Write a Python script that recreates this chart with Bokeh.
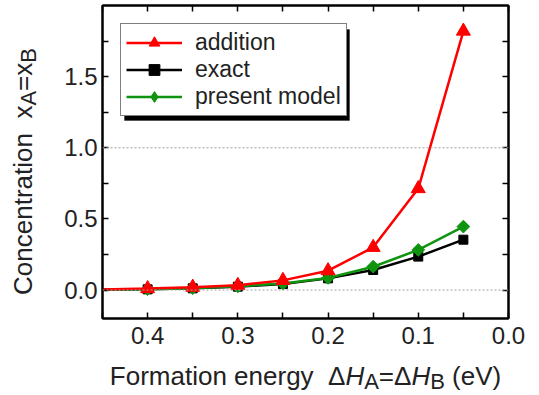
import math
from bokeh.plotting import figure
from bokeh.layouts import row, column
from bokeh.models import (Legend, LegendItem, Label, Span, BoxAnnotation, FixedTicker,
                          PrintfTickFormatter, LinearAxis, Range1d, CustomLabelingPolicy)
from bokeh.embed import file_html
from bokeh.resources import INLINE

# ---------------- data ----------------
energies = [0.45, 0.40, 0.35, 0.30, 0.25, 0.20, 0.15, 0.10, 0.05]
addition = [0.004, 0.010, 0.020, 0.033, 0.068, 0.136, 0.300, 0.713, 1.820]
exact = [0.002, 0.005, 0.012, 0.024, 0.042, 0.082, 0.141, 0.235, 0.354]
present_model = [0.002, 0.006, 0.013, 0.026, 0.046, 0.085, 0.164, 0.282, 0.446]
ref_levels = [0.0, 1.0]
x_major = [0.4, 0.3, 0.2, 0.1, 0.0]
x_minor = [0.45, 0.35, 0.25, 0.15, 0.05]
y_major = [0.0, 0.5, 1.0, 1.5]
y_minor = [0.25, 0.75, 1.25, 1.75]

RED = "#ff0000"
BLACK = "#000000"
GREEN = "#109410"
TXT = "#222222"
FONT = "Liberation Sans"
NBSP = "\u00a0"

# page geometry
PAGE_W, PAGE_H = 539, 395
YLAB_W = 46            # width of the strip holding the y-axis title
MAIN_H = 358           # height of the main figure
FRAME_LEFT, FRAME_RIGHT, FRAME_TOP, FRAME_BOTTOM = 102, 508, 5, 318
BASELINE_FIX = 11      # renderer places "alphabetic" baseline this much lower

p = figure(width=PAGE_W - YLAB_W, height=MAIN_H,
           x_range=Range1d(0.45, 0.0), y_range=Range1d(-0.2, 2.0),
           output_backend="svg", toolbar_location=None,
           min_border_left=FRAME_LEFT - YLAB_W, min_border_right=PAGE_W - FRAME_RIGHT,
           min_border_top=FRAME_TOP, min_border_bottom=MAIN_H - FRAME_BOTTOM)
p.grid.visible = False
p.outline_line_color = "black"
p.outline_line_width = 2
p.background_fill_color = "white"
p.border_fill_color = "white"

def style_axis(ax, labels=True):
    ax.axis_line_color = "black"
    ax.axis_line_width = 2
    ax.major_tick_in = 6
    ax.major_tick_out = 0
    ax.minor_tick_in = 6
    ax.minor_tick_out = 0
    ax.major_tick_line_width = 1.5
    ax.minor_tick_line_width = 1.5
    ax.major_label_text_font = FONT
    ax.major_label_text_color = TXT
    if labels:
        ax.major_label_text_font_size = "24px"
    else:
        ax.major_label_text_font_size = "1px"
        ax.major_label_standoff = 0
        ax.major_label_policy = CustomLabelingPolicy(code="return []")

xt = FixedTicker(ticks=x_major, minor_ticks=x_minor)
yt = FixedTicker(ticks=y_major, minor_ticks=y_minor)

p.xaxis.ticker = xt
p.yaxis.ticker = yt
p.xaxis.formatter = PrintfTickFormatter(format="%.1f")
p.yaxis.formatter = PrintfTickFormatter(format="%.1f")
style_axis(p.xaxis[0])
style_axis(p.yaxis[0])
p.xaxis.major_label_standoff = 8
p.yaxis.major_label_standoff = 5

top_ax = LinearAxis(ticker=xt)
right_ax = LinearAxis(ticker=yt)
style_axis(top_ax, labels=False)
style_axis(right_ax, labels=False)
p.add_layout(top_ax, "above")
p.add_layout(right_ax, "right")

for lv in ref_levels:
    p.add_layout(Span(location=lv, dimension="width", line_color="#a0a0a0",
                      line_width=1, line_dash="2 2"))

mx = energies[1:]
l_ex = p.line(energies, exact, line_color=BLACK, line_width=2.5)
s_ex = p.scatter(mx, exact[1:], marker="square", size=9, fill_color=BLACK, line_color=BLACK)
l_pm = p.line(energies, present_model, line_color=GREEN, line_width=2.5)
# diamond glyph used for the legend entry (hidden beneath the rotated squares)
s_pm_leg = p.scatter(mx, present_model[1:], marker="diamond", size=11,
                     fill_color=GREEN, line_color=GREEN)
s_pm = p.scatter(mx, present_model[1:], marker="square", angle=math.pi / 4, size=9,
                 fill_color=GREEN, line_color=GREEN)
l_ad = p.line(energies, addition, line_color=RED, line_width=2.5)
s_ad = p.scatter(mx, addition[1:], marker="triangle", size=14, fill_color=RED, line_color=RED)

# legend shadow (frame-relative screen units)
p.add_layout(BoxAnnotation(left=22, right=247, top=FRAME_BOTTOM - 29, bottom=FRAME_BOTTOM - 120,
                           left_units="screen", right_units="screen",
                           top_units="screen", bottom_units="screen",
                           fill_color="black", fill_alpha=1, line_color="black"))

legend = Legend(items=[LegendItem(label="addition", renderers=[l_ad, s_ad]),
                       LegendItem(label="exact", renderers=[l_ex, s_ex]),
                       LegendItem(label="present model", renderers=[l_pm, s_pm_leg])],
                location=(18, FRAME_BOTTOM - 116), padding=5, spacing=0, margin=0,
                glyph_width=56, glyph_height=27, label_height=27, label_standoff=13,
                label_text_font=FONT, label_text_font_size="23px", label_text_color=TXT,
                border_line_color="black", border_line_width=1.5,
                background_fill_color="white", background_fill_alpha=1)
p.add_layout(legend, "center")

# ---------------- axis titles (pieces with sub-scripts) ----------------
W = {"F": 611, "o": 556, "r": 333, "m": 833, "a": 556, "t": 278, "i": 222, "n": 556,
     " ": 278, NBSP: 278, "e": 556, "g": 556, "y": 500, "Δ": 668, "H": 722, "A": 667,
     "=": 584, "B": 667, "(": 333, "V": 667, ")": 333, "C": 722, "c": 500, "x": 500}

def width(s, size):
    return sum(W.get(ch, 556) for ch in s) * size / 1000.0

MAIN = 26
SUB = 22

def blank_fig(w, h, bl, br, bt, bb):
    f = figure(width=w, height=h, x_range=Range1d(0, 1), y_range=Range1d(0, 1),
               output_backend="svg", toolbar_location=None,
               x_axis_type=None, y_axis_type=None,
               min_border_left=bl, min_border_right=br, min_border_top=bt, min_border_bottom=bb)
    f.grid.visible = False
    f.outline_line_color = None
    f.background_fill_color = "white"
    f.border_fill_color = "white"
    return f

# y title strip (left of the main figure, same height and vertical borders)
yl = blank_fig(YLAB_W, MAIN_H, 0, 0, FRAME_TOP, MAIN_H - FRAME_BOTTOM)
ypieces = [("Concentration " + NBSP + "x", MAIN, 0), ("A", SUB, 6), ("=x", MAIN, 0), ("B", SUB, 6)]
total = sum(width(t, s) for t, s, _ in ypieces)
cy = (FRAME_BOTTOM - 171) - total / 2
bx = 33 - BASELINE_FIX
for t, s, dx in ypieces:
    yl.add_layout(Label(x=bx + dx, y=cy, x_units="screen", y_units="screen", text=t,
                        angle=math.pi / 2, text_font=FONT, text_font_size=f"{s}px",
                        text_color=TXT, text_align="left", text_baseline="alphabetic"))
    cy += width(t, s)

# x title strip (full width, same horizontal frame as the main figure)
xl = blank_fig(PAGE_W, PAGE_H - MAIN_H, FRAME_LEFT, PAGE_W - FRAME_RIGHT, 0, 0)
xpieces = [("Formation energy " + NBSP + "Δ", MAIN, "normal", 0), ("H", MAIN, "italic", 0),
           ("A", SUB, "normal", -6), ("=Δ", MAIN, "normal", 0), ("H", MAIN, "italic", 0),
           ("B", SUB, "normal", -6), (NBSP + "(eV)", MAIN, "normal", 0)]
total = sum(width(t, s) for t, s, _, _ in xpieces)
cx = (FRAME_RIGHT - FRAME_LEFT) / 2 - total / 2
base = PAGE_H - 386 + BASELINE_FIX
for t, s, st, dy in xpieces:
    xl.add_layout(Label(x=cx, y=base + dy, x_units="screen", y_units="screen", text=t,
                        text_font=FONT, text_font_size=f"{s}px", text_font_style=st,
                        text_color=TXT, text_align="left", text_baseline="alphabetic"))
    cx += width(t, s)

layout = column(row(yl, p, spacing=0), xl, spacing=0)
open("out.html", "w").write(file_html(layout, INLINE))
